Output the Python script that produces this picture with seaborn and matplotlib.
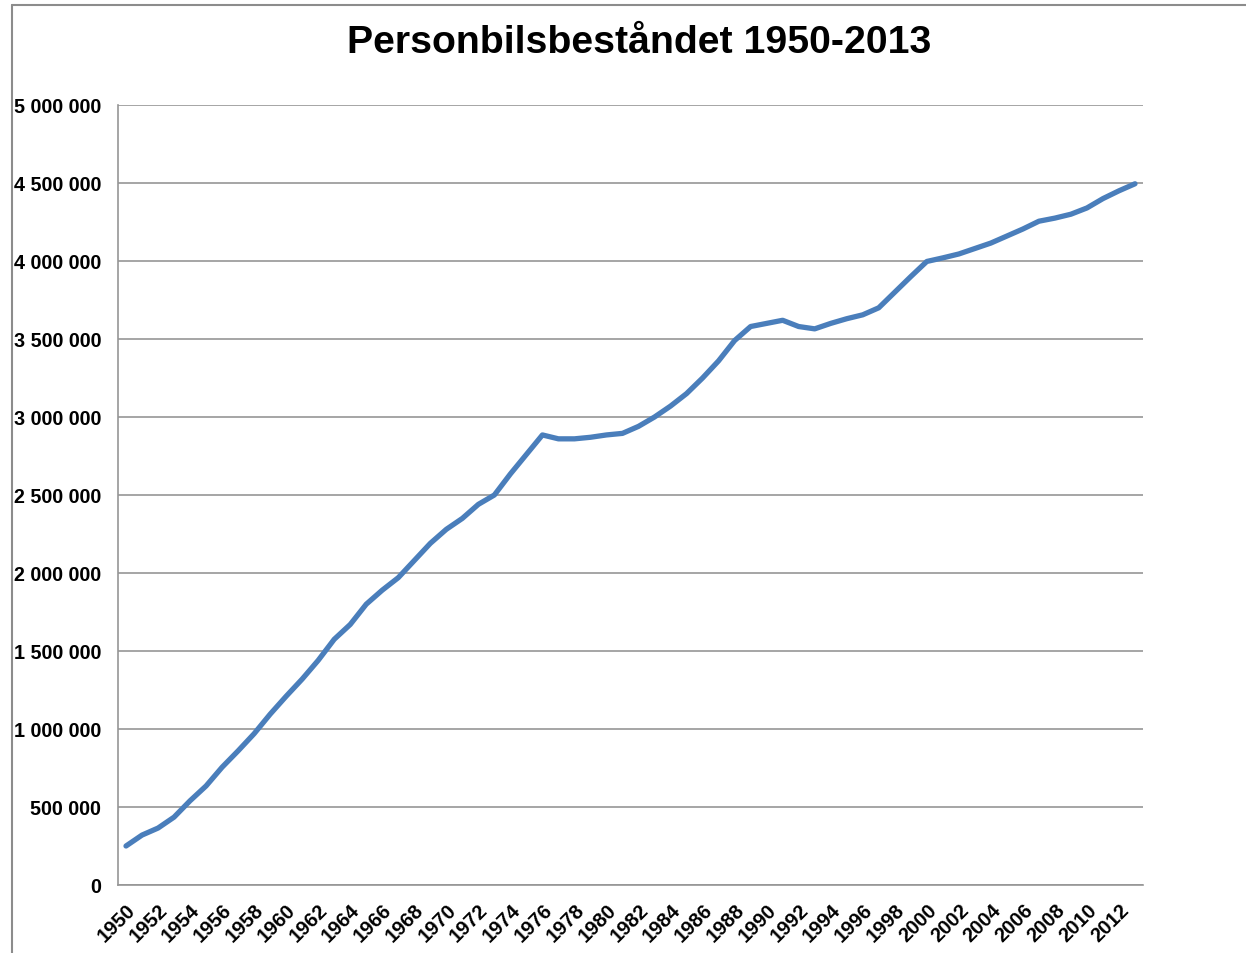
import matplotlib
matplotlib.use("Agg")
import matplotlib.pyplot as plt
import seaborn as sns
import pandas as pd
from matplotlib.lines import Line2D
from matplotlib.ticker import FuncFormatter, MultipleLocator, FixedLocator

years = list(range(1950, 2014))
cars = [
    250000, 320000, 365000, 435000, 540000, 635000, 755000, 860000, 970000, 1095000,
    1210000, 1320000, 1440000, 1575000, 1670000, 1800000, 1890000, 1970000, 2080000, 2190000,
    2280000, 2350000, 2440000, 2500000, 2635000, 2760000, 2885000, 2860000, 2860000, 2870000,
    2885000, 2895000, 2940000, 3000000, 3070000, 3150000, 3250000, 3360000, 3490000, 3580000,
    3600000, 3620000, 3580000, 3565000, 3600000, 3630000, 3655000, 3700000, 3800000, 3900000,
    3997000, 4020000, 4045000, 4080000, 4115000, 4160000, 4205000, 4255000, 4275000, 4300000,
    4340000, 4400000, 4450000, 4495000,
]
title = "Personbilsbeståndet 1950-2013"

df = pd.DataFrame({"pos": range(len(years)), "year": years, "cars": cars})

sns.set_theme(style="white")
plt.rcParams["font.family"] = ["Liberation Sans", "DejaVu Sans"]

fig = plt.figure(figsize=(12.46, 9.54), dpi=100)
W, H = 1246, 954
ax = fig.add_axes([118 / W, 1 - 886 / H, (1143 - 118) / W, (886 - 106) / H])

sns.lineplot(data=df, x="pos", y="cars", ax=ax, color="#4A7EBB", linewidth=3.8,
             solid_capstyle="round", solid_joinstyle="round")

ax.set_xlim(-0.5, len(years) - 0.5)
ax.set_ylim(0, 5000000)
ax.yaxis.set_major_locator(MultipleLocator(500000))
ax.yaxis.set_major_formatter(FuncFormatter(lambda v, p: f"{int(v):,}".replace(",", " ")))
ax.grid(axis="y", color="#969696", linewidth=1.2)
ax.set_axisbelow(True)

for s in ["top", "right"]:
    ax.spines[s].set_visible(False)
for s in ["left", "bottom"]:
    ax.spines[s].set_color("#969696")
    ax.spines[s].set_linewidth(1.2)

# x: labels every second year at category centers, tick marks between categories
ax.set_xticks(list(range(0, len(years), 2)))
ax.set_xticklabels([str(y) for y in years[::2]], rotation=45, ha="right",
                   rotation_mode="anchor", fontsize=14.5, fontweight="bold", color="black")
ax.xaxis.set_minor_locator(FixedLocator([i - 0.5 for i in range(len(years) + 1)]))
ax.tick_params(axis="x", which="major", length=0, pad=10.5, labelcolor="black")
ax.tick_params(axis="x", which="minor", length=3.8, width=1.2, color="#969696", direction="out")
ax.tick_params(axis="y", length=4.5, width=1.2, color="#969696", direction="out",
               labelsize=14.2, pad=7.7, labelcolor="black")
for lab in ax.get_yticklabels():
    lab.set_fontweight("bold")
ax.set_xlabel("")
ax.set_ylabel("")

fig.text(639 / W, 1 - 43 / H, title, ha="center", va="center",
         fontsize=28.3, fontweight="bold", color="black")

# chart frame (partially visible)
fig.add_artist(Line2D([12 / W, 12 / W], [0, 1 - 6 / H], transform=fig.transFigure,
                      color="#8C8C8C", linewidth=1.5))
fig.add_artist(Line2D([12 / W, 1], [1 - 6 / H, 1 - 6 / H], transform=fig.transFigure,
                      color="#8C8C8C", linewidth=1.5))

fig.savefig("out.png", dpi=100)
